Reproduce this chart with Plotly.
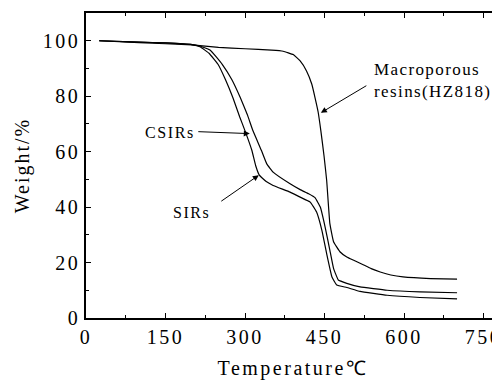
import plotly.graph_objects as go

# Data
temp_sirs = [25, 100, 150, 200, 215, 232, 249, 263, 277, 290, 300, 313, 320, 327, 340, 353, 385, 404, 423, 435, 445, 454, 464, 473, 492, 517, 568, 630, 700]
w_sirs = [100, 99.5, 99.2, 98.6, 97.8, 95.5, 91.5, 86, 79.5, 72.5, 67.5, 60.4, 55.0, 51.5, 49.2, 47.8, 45.4, 43.6, 41.8, 38.2, 31.6, 23.2, 14.8, 11.9, 11.0, 9.6, 8.2, 7.4, 6.9]

temp_csirs = [25, 100, 150, 200, 215, 235, 257, 275, 291, 305, 315, 331, 341, 353, 385, 404, 420, 432, 442, 451, 460, 467, 476, 492, 517, 568, 630, 700]
w_csirs = [100, 99.5, 99.2, 98.6, 98.1, 96.5, 91.5, 86, 79.5, 73, 67.5, 60.4, 55.6, 52.6, 48.4, 46.3, 44.8, 43.4, 40.0, 32.9, 24.5, 17.9, 13.7, 12.5, 11.2, 10.0, 9.4, 9.1]

temp_macro = [25, 100, 200, 250, 300, 350, 372, 391, 404, 416, 426, 432, 438, 443, 449, 454, 460, 467, 479, 492, 504, 520, 538, 555, 575, 598, 650, 700]
w_macro = [100, 99.3, 98.5, 97.6, 97.1, 96.6, 96.2, 95.0, 92.7, 89.1, 84.3, 79.5, 74.2, 67.6, 58.5, 49.7, 34.1, 27.5, 23.9, 22.0, 20.9, 19.5, 17.8, 16.6, 15.5, 14.8, 14.2, 14.0]

x_ticks = [0, 150, 300, 450, 600, 750]
y_ticks = [0, 20, 40, 60, 80, 100]

FONT = "Liberation Serif"

def sp(t, ls=2.0):
    return f'<span style="font-family:Liberation Serif;letter-spacing:{ls}px">{t}</span>'

fig = go.Figure()
line = dict(color="black", width=1.2, shape="spline", smoothing=0.3)
for xs, ys, name in [(temp_macro, w_macro, "Macroporous resins(HZ818)"),
                     (temp_csirs, w_csirs, "CSIRs"),
                     (temp_sirs, w_sirs, "SIRs")]:
    fig.add_trace(go.Scatter(x=xs, y=ys, mode="lines", line=line, name=name, showlegend=False))

# arrows
arrow = dict(showarrow=True, arrowhead=2, arrowsize=1.2, arrowwidth=1, arrowcolor="black", text="")
fig.add_annotation(x=443, y=74, ax=47, ay=-28, **arrow)
fig.add_annotation(x=309, y=66.5, ax=-53, ay=-2, **arrow)
fig.add_annotation(x=326, y=51.5, ax=-39, ay=27, **arrow)

# labels
fig.add_annotation(x=540, y=85.5, xanchor="left", yanchor="middle", align="left", showarrow=False,
                   text=sp("Macroporous", 1.4) + "<br>" + sp("resins(HZ818)", 1.4),
                   font=dict(family=FONT, size=17, color="black"))
fig.add_annotation(x=209, y=66.8, xanchor="right", yanchor="middle", showarrow=False,
                   text=sp("CSIRs", 1.6), font=dict(family=FONT, size=16, color="black"))
fig.add_annotation(x=238, y=38.1, xanchor="right", yanchor="middle", showarrow=False,
                   text=sp("SIRs", 1.5), font=dict(family=FONT, size=16, color="black"))

# the page body has an 8px margin; the figure is sized so that it fills the 500x381 window
fig.update_layout(
    width=492, height=373,
    margin=dict(l=78, r=0, t=5, b=63),
    plot_bgcolor="white", paper_bgcolor="white",
    font=dict(family=FONT, size=20, color="black"),
)
fig.update_xaxes(
    range=[0, 781], showgrid=False, zeroline=False, automargin=False,
    showline=True, linecolor="black", linewidth=1.5, mirror="ticks",
    ticks="inside", ticklen=5, tickwidth=1, tickcolor="black",
    tickvals=x_ticks, ticktext=[sp(str(v), 2.5) for v in x_ticks],
    ticklabeloverflow="allow",
    minor=dict(dtick=75, ticks="inside", ticklen=3, tickcolor="black", showgrid=False),
    title=dict(text=sp("Temperature℃", 2.5), font=dict(family=FONT, size=20), standoff=14),
)
fig.update_yaxes(
    range=[0, 110], showgrid=False, zeroline=False, automargin=False,
    showline=True, linecolor="black", linewidth=1.5, mirror=False,
    ticks="inside", ticklen=5, tickwidth=1, tickcolor="black",
    tickvals=y_ticks, ticktext=[sp(str(v), 2.5) for v in y_ticks],
    minor=dict(dtick=10, ticks="inside", ticklen=3, tickcolor="black", showgrid=False),
    title=dict(text=sp("Weight/%", 2), font=dict(family=FONT, size=20), standoff=8),
)

fig.write_html("out.html")
